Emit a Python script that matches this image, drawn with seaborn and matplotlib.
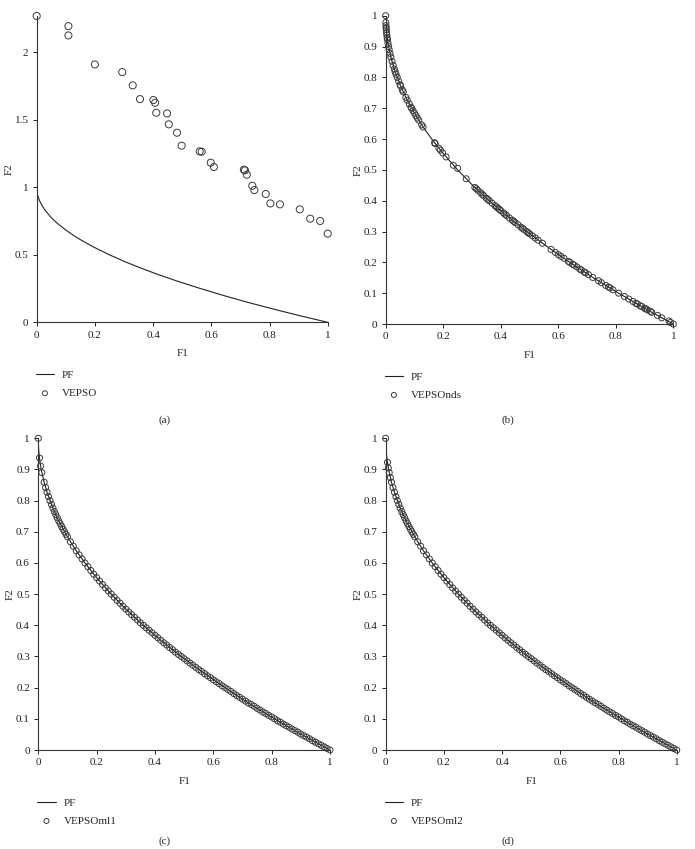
import matplotlib
matplotlib.use("Agg")
import matplotlib.pyplot as plt
import seaborn as sns

# ---------------- data ----------------
pf_f1 = [0.0, 0.0001, 0.0005, 0.001, 0.002, 0.005, 0.01, 0.02, 0.03, 0.05, 0.07, 0.1,
         0.13, 0.16, 0.2, 0.25, 0.3, 0.36, 0.42, 0.49, 0.56, 0.64, 0.72, 0.81, 0.9, 1.0]
pf_f2 = [1.0, 0.99, 0.978, 0.968, 0.955, 0.929, 0.9, 0.859, 0.827, 0.776, 0.735, 0.684,
         0.639, 0.6, 0.553, 0.5, 0.452, 0.4, 0.352, 0.3, 0.252, 0.2, 0.151, 0.1, 0.051, 0.0]

vepso_f1 = [0.0, 0.109, 0.109, 0.200, 0.294, 0.330, 0.355, 0.401, 0.407, 0.411, 0.448,
            0.454, 0.482, 0.498, 0.560, 0.567, 0.598, 0.609, 0.712, 0.716, 0.722, 0.741,
            0.748, 0.787, 0.803, 0.836, 0.904, 0.940, 0.974, 1.0]
vepso_f2 = [2.27, 2.195, 2.126, 1.911, 1.854, 1.756, 1.654, 1.647, 1.627, 1.553, 1.548,
            1.467, 1.405, 1.309, 1.267, 1.264, 1.183, 1.151, 1.131, 1.126, 1.094, 1.012,
            0.980, 0.951, 0.881, 0.874, 0.837, 0.768, 0.751, 0.657]

nds_f1 = [0.0, 0.0005, 0.001, 0.0015, 0.002, 0.003, 0.004, 0.005, 0.006, 0.008, 0.010, 0.012,
          0.015, 0.018, 0.022, 0.026, 0.030, 0.033, 0.036, 0.040, 0.045, 0.050, 0.052, 0.058, 0.061,
          0.070, 0.075, 0.082, 0.088, 0.090, 0.095, 0.100, 0.105, 0.110, 0.115, 0.125, 0.130,
          0.170, 0.172, 0.185, 0.190, 0.198, 0.210, 0.235, 0.250, 0.280,
          0.310, 0.315, 0.320, 0.330, 0.335, 0.340, 0.350, 0.355, 0.360, 0.370, 0.380, 0.385,
          0.390, 0.395, 0.400, 0.410, 0.415, 0.420, 0.430, 0.440, 0.445, 0.450, 0.460, 0.470,
          0.475, 0.480, 0.490, 0.495, 0.500, 0.510, 0.520, 0.530, 0.545,
          0.575, 0.590, 0.600, 0.610, 0.620, 0.635, 0.640, 0.650, 0.655, 0.665, 0.675, 0.680,
          0.690, 0.695, 0.705, 0.720, 0.740, 0.750, 0.765, 0.775, 0.780, 0.790, 0.810, 0.830,
          0.845, 0.860, 0.870, 0.875, 0.885, 0.890, 0.900, 0.905, 0.910, 0.920, 0.925, 0.945,
          0.960, 0.985, 0.990, 1.000]
nds_f2 = [1.0, 0.978, 0.968, 0.961, 0.955, 0.945, 0.937, 0.929, 0.923, 0.911, 0.900, 0.890,
          0.878, 0.866, 0.852, 0.839, 0.827, 0.818, 0.810, 0.800, 0.788, 0.776, 0.772, 0.759, 0.753,
          0.735, 0.726, 0.714, 0.703, 0.700, 0.692, 0.684, 0.676, 0.668, 0.661, 0.646, 0.639,
          0.588, 0.585, 0.570, 0.564, 0.555, 0.542, 0.515, 0.505, 0.471,
          0.443, 0.439, 0.434, 0.426, 0.421, 0.417, 0.408, 0.404, 0.400, 0.392, 0.384, 0.380,
          0.376, 0.372, 0.368, 0.360, 0.356, 0.352, 0.344, 0.337, 0.333, 0.329, 0.322, 0.314,
          0.311, 0.307, 0.300, 0.296, 0.293, 0.286, 0.279, 0.272, 0.262,
          0.242, 0.232, 0.225, 0.219, 0.213, 0.203, 0.200, 0.194, 0.191, 0.185, 0.178, 0.175,
          0.169, 0.166, 0.160, 0.151, 0.140, 0.134, 0.125, 0.120, 0.117, 0.111, 0.100, 0.089,
          0.081, 0.073, 0.067, 0.065, 0.059, 0.057, 0.051, 0.049, 0.046, 0.041, 0.038, 0.028,
          0.020, 0.010, 0.005, 0.000]

# shared body of the ml1 / ml2 fronts (f1 >= 0.025)
ml_body_f1 = [0.025, 0.030, 0.035, 0.040, 0.045, 0.050, 0.055, 0.060, 0.065, 0.070, 0.075,
              0.080, 0.085, 0.090, 0.095, 0.10, 0.11, 0.12, 0.13, 0.14, 0.15, 0.16, 0.17,
              0.18, 0.19, 0.20, 0.21, 0.22, 0.23, 0.24, 0.25, 0.26, 0.27, 0.28, 0.29, 0.30,
              0.31, 0.32, 0.33, 0.34, 0.35, 0.36, 0.37, 0.38, 0.39, 0.40, 0.41, 0.42, 0.43,
              0.44, 0.45, 0.46, 0.47, 0.48, 0.49, 0.50, 0.51, 0.52, 0.53, 0.54, 0.55, 0.56,
              0.57, 0.58, 0.59, 0.60, 0.61, 0.62, 0.63, 0.64, 0.65, 0.66, 0.67, 0.68, 0.69,
              0.70, 0.71, 0.72, 0.73, 0.74, 0.75, 0.76, 0.77, 0.78, 0.79, 0.80, 0.81, 0.82,
              0.83, 0.84, 0.85, 0.86, 0.87, 0.88, 0.89, 0.90, 0.91, 0.92, 0.93, 0.94, 0.95,
              0.96, 0.97, 0.98, 0.99, 1.00]
ml_body_f2 = [0.842, 0.827, 0.813, 0.800, 0.788, 0.776, 0.765, 0.755, 0.745, 0.735, 0.726,
              0.717, 0.708, 0.700, 0.692, 0.684, 0.668, 0.654, 0.639, 0.626, 0.613, 0.600, 0.588,
              0.576, 0.564, 0.553, 0.542, 0.531, 0.520, 0.510, 0.500, 0.490, 0.480, 0.471, 0.461, 0.452,
              0.443, 0.434, 0.426, 0.417, 0.408, 0.400, 0.392, 0.384, 0.376, 0.368, 0.360, 0.352, 0.344,
              0.337, 0.329, 0.322, 0.314, 0.307, 0.300, 0.293, 0.286, 0.279, 0.272, 0.265, 0.258, 0.252,
              0.245, 0.238, 0.232, 0.225, 0.219, 0.213, 0.206, 0.200, 0.194, 0.188, 0.181, 0.175, 0.169,
              0.163, 0.157, 0.151, 0.146, 0.140, 0.134, 0.128, 0.122, 0.117, 0.111, 0.106, 0.100, 0.094,
              0.089, 0.083, 0.078, 0.073, 0.067, 0.062, 0.057, 0.051, 0.046, 0.041, 0.036, 0.030, 0.025,
              0.020, 0.015, 0.010, 0.005, 0.000]

ml1_head_f1 = [0.0, 0.004, 0.008, 0.012, 0.020]
ml1_head_f2 = [1.0, 0.937, 0.911, 0.890, 0.859]
ml2_head_f1 = [0.0, 0.006, 0.009, 0.012, 0.016, 0.020]
ml2_head_f2 = [1.0, 0.923, 0.905, 0.890, 0.874, 0.859]

ml1_f1 = ml1_head_f1 + ml_body_f1
ml1_f2 = ml1_head_f2 + ml_body_f2
ml2_f1 = ml2_head_f1 + ml_body_f1
ml2_f2 = ml2_head_f2 + ml_body_f2

panels = [
    dict(name="VEPSO", f1=vepso_f1, f2=vepso_f2, tag="(a)", ylim=2.27,
         yticks=[0, 0.5, 1, 1.5, 2], yticklabels=["0", "0.5", "1", "1.5", "2"], s=26),
    dict(name="VEPSOnds", f1=nds_f1, f2=nds_f2, tag="(b)", ylim=1.0,
         yticks=[0, .1, .2, .3, .4, .5, .6, .7, .8, .9, 1],
         yticklabels=["0", "0.1", "0.2", "0.3", "0.4", "0.5", "0.6", "0.7", "0.8", "0.9", "1"], s=19),
    dict(name="VEPSOml1", f1=ml1_f1, f2=ml1_f2, tag="(c)", ylim=1.0,
         yticks=[0, .1, .2, .3, .4, .5, .6, .7, .8, .9, 1],
         yticklabels=["0", "0.1", "0.2", "0.3", "0.4", "0.5", "0.6", "0.7", "0.8", "0.9", "1"], s=19),
    dict(name="VEPSOml2", f1=ml2_f1, f2=ml2_f2, tag="(d)", ylim=1.0,
         yticks=[0, .1, .2, .3, .4, .5, .6, .7, .8, .9, 1],
         yticklabels=["0", "0.1", "0.2", "0.3", "0.4", "0.5", "0.6", "0.7", "0.8", "0.9", "1"], s=19),
]
xticks = [0, 0.2, 0.4, 0.6, 0.8, 1]
xticklabels = ["0", "0.2", "0.4", "0.6", "0.8", "1"]

# ---------------- style ----------------
sns.set_style("ticks")
plt.rcParams["font.family"] = ["Liberation Serif", "DejaVu Serif"]
FS = 8
plt.rcParams["font.size"] = FS
plt.rcParams["axes.linewidth"] = 0.8

W, H = 695, 849
fig = plt.figure(figsize=(W / 100, H / 100), dpi=100)

# axes boxes in pixels: left, top, right, bottom
boxes = [(36.7, 16.0, 327.7, 322.3),
         (385.7, 15.7, 673.3, 324.0),
         (38.3, 438.3, 330.0, 750.0),
         (385.7, 438.3, 676.7, 750.0)]
tag_y = [420, 420, 841, 841]
tag_x = [165, 508, 165, 508]

edge = "#3a3a3a"
for p, (l, t, r, b), ty, tx in zip(panels, boxes, tag_y, tag_x):
    ax = fig.add_axes([l / W, 1 - b / H, (r - l) / W, (b - t) / H])
    sns.lineplot(x=pf_f1, y=pf_f2, ax=ax, color="#222222", linewidth=0.8,
                 label="PF", sort=False, estimator=None)
    sns.scatterplot(x=p["f1"], y=p["f2"], ax=ax, marker="o", s=p["s"],
                    facecolors="none", edgecolor=edge, linewidth=0.7,
                    label=p["name"], clip_on=False, zorder=3)
    ax.set_xlim(0, 1)
    ax.set_ylim(0, p["ylim"])
    ax.set_xticks(xticks)
    ax.set_xticklabels(xticklabels)
    ax.set_yticks(p["yticks"])
    ax.set_yticklabels(p["yticklabels"])
    ax.tick_params(direction="out", length=3, width=0.7, pad=3.0, labelsize=FS,
                   colors="#222222")
    sns.despine(ax=ax)
    for sp in ("left", "bottom"):
        ax.spines[sp].set_color("#333333")
    hpx = b - t
    wpx = r - l
    ax.set_xlabel("F1", fontsize=FS)
    ax.set_ylabel("F2", fontsize=FS)
    ax.xaxis.set_label_coords(0.5, -31 / hpx)
    ax.yaxis.set_label_coords(-28 / wpx, 0.5)
    ax.xaxis.label.set_va("center")
    ax.yaxis.label.set_va("center")
    ax.legend(loc="upper left", bbox_to_anchor=((l - 1) / W, 1 - (b + 48) / H),
              bbox_transform=fig.transFigure, frameon=False, borderpad=0,
              borderaxespad=0, handlelength=1.65, handletextpad=0.7,
              labelspacing=0.75, markerscale=3.6 / p["s"] ** 0.5, fontsize=FS)
    fig.text(tx / W, 1 - ty / H, p["tag"], ha="center", va="center", fontsize=FS)

fig.savefig("out.png", dpi=100)
